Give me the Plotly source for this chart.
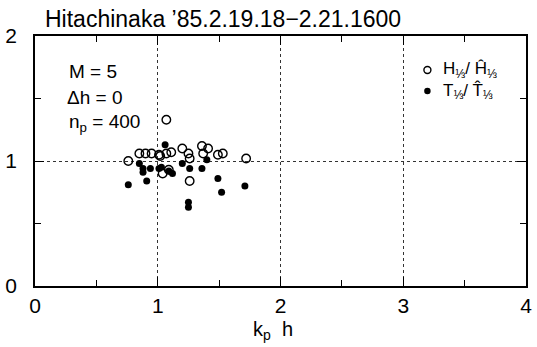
import plotly.graph_objects as go

# ---- data ----
title_text = "Hitachinaka \u201985.2.19.18\u22122.21.1600"
x_ticks = [0, 1, 2, 3, 4]
y_ticks = [0, 1, 2]

# H1/3 / H^1/3  (open circles)
h_x = [1.07, 0.76, 0.85, 0.90, 0.95, 1.01, 1.07, 1.11, 1.02, 1.20, 1.25, 1.26,
       1.36, 1.41, 1.37, 1.49, 1.53, 1.72, 1.26, 1.04, 1.09]
h_y = [1.33, 1.00, 1.06, 1.06, 1.06, 1.05, 1.06, 1.07, 1.04, 1.10, 1.06, 1.02,
       1.12, 1.10, 1.06, 1.05, 1.06, 1.02, 0.84, 0.90, 0.93]

# T1/3 / T^1/3  (filled circles)
t_x = [1.06, 0.85, 0.88, 0.94, 0.88, 1.01, 0.76, 0.91, 1.12, 1.40, 1.20, 1.26,
       1.36, 1.49, 1.52, 1.71, 1.25, 1.25, 1.03, 1.09]
t_y = [1.13, 0.98, 0.94, 0.94, 0.91, 0.94, 0.81, 0.84, 0.90, 1.01, 0.98, 0.94,
       0.94, 0.86, 0.75, 0.80, 0.63, 0.67, 0.95, 0.92]

params = ["M = 5", "\u0394h = 0", "n<sub>p</sub> = 400"]
legend_labels = ["H<sub>\u2153</sub>/ \u0124<sub>\u2153</sub>",
                 "T<sub>\u2153</sub>/ T\u0302<sub>\u2153</sub>"]

FONT = "Liberation Sans, Arial, sans-serif"

W, H = 537, 347
L, R, T, B = 34, 5, 36, 61
pw, ph = W - L - R, H - T - B


def px(xp):
    return (xp - L) / pw


def py(yp):
    return (H - B - yp) / ph


fig = go.Figure()
fig.add_trace(go.Scatter(
    x=h_x, y=h_y, mode="markers",
    marker=dict(symbol="circle-open", size=8.5, color="black", line=dict(width=1.4)),
    showlegend=False))
fig.add_trace(go.Scatter(
    x=t_x, y=t_y, mode="markers",
    marker=dict(symbol="circle", size=7, color="black"),
    showlegend=False))

axis_common = dict(
    showline=True, linecolor="black", linewidth=1.5, mirror="ticks",
    ticks="inside", ticklen=9, tickwidth=1, tickcolor="black",
    showgrid=True, gridcolor="#333", gridwidth=1, griddash="dot",
    zeroline=False,
    tickfont=dict(family=FONT, size=21, color="black"),
    minor=dict(ticks="inside", ticklen=6, tickcolor="black", showgrid=False),
)

fig.update_xaxes(range=[0, 4], tickvals=x_ticks, ticktext=[str(v) for v in x_ticks],
                 minor_dtick=0.5, **axis_common)
fig.update_yaxes(range=[0, 2], tickvals=y_ticks, ticktext=[str(v) for v in y_ticks],
                 minor_dtick=0.5, ticklabelstandoff=12, **axis_common)

annots = []
annots.append(dict(text=title_text, x=px(42), y=py(19), xref="paper", yref="paper",
                   xanchor="left", yanchor="middle", showarrow=False,
                   font=dict(family=FONT, size=23, color="black")))
for t, xx, yy in zip(params, [66, 64, 66], [71, 97, 123]):
    annots.append(dict(text=t, x=px(xx), y=py(yy), xref="paper", yref="paper",
                       xanchor="left", yanchor="middle", showarrow=False,
                       font=dict(family=FONT, size=19, color="black")))
annots.append(dict(text="k<sub>p</sub>  h", x=px(275), y=py(330), xref="paper", yref="paper",
                   xanchor="center", yanchor="middle", showarrow=False,
                   font=dict(family=FONT, size=20, color="black")))
for t, yy in zip(legend_labels, [70, 91]):
    annots.append(dict(text=t, x=px(446), y=py(yy), xref="paper", yref="paper",
                       xanchor="left", yanchor="middle", showarrow=False,
                       font=dict(family=FONT, size=17, color="black")))
fig.update_layout(annotations=annots)

# legend markers
fig.add_trace(go.Scatter(x=[px(432)], y=[py(70)], xaxis="x2", yaxis="y2", mode="markers",
                         marker=dict(symbol="circle-open", size=7, color="black", line=dict(width=1.4)),
                         showlegend=False, hoverinfo="skip"))
fig.add_trace(go.Scatter(x=[px(432)], y=[py(91)], xaxis="x2", yaxis="y2", mode="markers",
                         marker=dict(symbol="circle", size=6.5, color="black"),
                         showlegend=False, hoverinfo="skip"))

fig.update_layout(
    width=W, height=H,
    margin=dict(l=L, r=R, t=T, b=B),
    paper_bgcolor="white", plot_bgcolor="white",
    xaxis2=dict(overlaying="x", range=[0, 1], visible=False),
    yaxis2=dict(overlaying="y", range=[0, 1], visible=False),
)

fig.write_html("out.html")
